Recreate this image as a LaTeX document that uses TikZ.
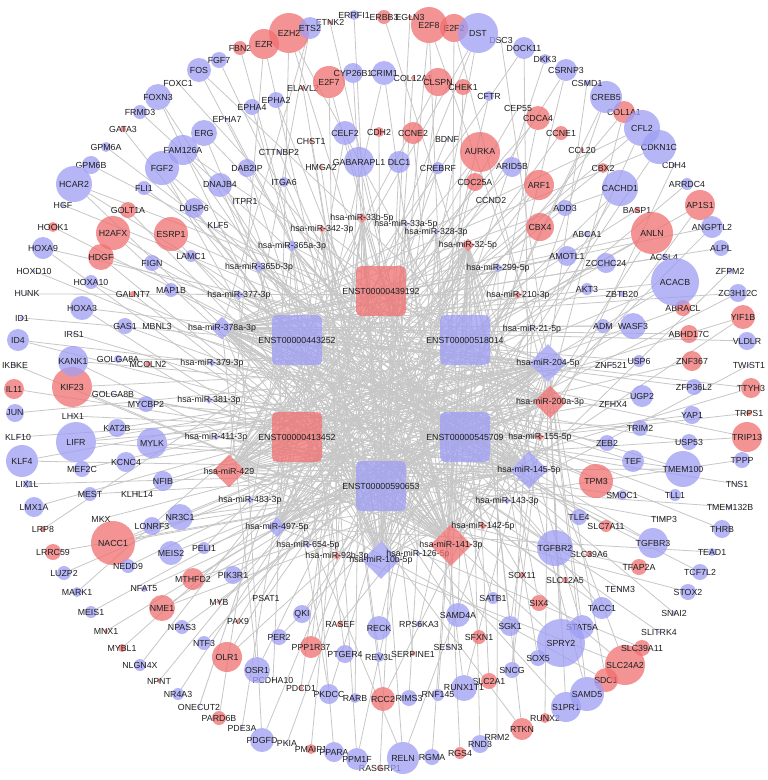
\documentclass[tikz,border=0pt]{standalone}
\usepackage{fontspec}
\setmainfont{Liberation Sans}
\usetikzlibrary{shapes.geometric,backgrounds}
\definecolor{upred}{HTML}{F07070}
\definecolor{downblue}{HTML}{9E9EF5}
\newcommand{\genefont}{\fontsize{8.8}{10}\selectfont}

\begin{document}
\begin{tikzpicture}[x=1pt, y=-1pt,
  gene/.style={circle, inner sep=0pt, fill opacity=0.75},
  mirna/.style={diamond, aspect=1, inner sep=0pt, fill opacity=0.75},
  lnc/.style={rectangle, rounded corners=5pt, minimum size=50pt, inner sep=0pt, fill opacity=0.75},
  link/.style={draw=black!22, line width=0.8pt},
  tag/.style={font=\genefont, text=black!88, inner sep=0pt, fill opacity=1, text opacity=1},
]
\useasboundingbox (0,0) rectangle (768,780);

% up-regulated mRNAs
\foreach \nm/\px/\py/\rad in {
  FBN2/240/48/7, GATA3/123/129/3, HOOK1/53/227/5, IL11/14/389/10, LRP8/43/529/3,
  LRRC59/53/552/8, MNX1/106/631/2, MYBL1/122/648/4, NPNT/159/681/2, PARD6B/219/718/7,
  PMAIP1/311/749/5, RASGRP1/380/768/2, RGS4/460/753/6, RTKN/522/729/11, RUNX2/545/718/5,
  SDC1/606/680/12, SLC24A2/625/665/20, SLC39A11/642/648/8, TRIP13/747/437/15, TRPS1/749/413/3,
  TTYH3/751/388/10, YIF1B/743/317/12, AP1S1/700/205/15, COL1A1/624/112/11, E2F2/454/28/14,
  E2F8/429/25/18, EGLN3/410/17/2, ERBB3/384/17/7, ETNK2/330/22/2, EZH2/289/33/20, EZR/264/44/15,
  ELAVL2/303/88/2, E2F7/329/82/16, COL12A1/413/78/2, CLSPN/438/82/14, CHEK1/463/87/8,
  CDCA4/538/118/12, CCNE1/561/133/7, CCL20/582/150/2, CBX2/603/168/5, BASP1/637/210/3,
  ANLN/652/233/21, ABRACL/683/308/8, ABHD17C/689/334/9, ZNF367/692/361/10, TFAP2A/639/567/8,
  SLC2A1/489/681/8, RCC2/383/699/12, PDCD1/301/688/2, OLR1/227/657/15, NME1/162/608/13,
  NACC1/113/543/22, KIF23/72/387/20, HDGF/101/257/13, H2AFX/113/233/17, GOLT1A/128/210/8,
  CHST1/311/141/2, CDH2/379/132/5, CCNE2/413/133/11, AURKA/480/152/20, ARF1/539/185/15,
  SLC7A11/606/526/6, SLC39A6/589/554/3, SLC12A5/565/580/3, SIX4/539/603/8, SFXN1/479/637/7,
  SERPINE1/413/654/2, PPP1R37/311/647/11, PAX9/238/621/2, MYB/219/602/2, MTHFD2/193/579/11,
  MCOLN2/148/364/3, GALNT7/133/294/3, ESRP1/171/234/17, HMGA2/321/167/2, CDC25A/475/182/9,
  CBX4/540/227/14, TPM3/596/481/17, SOX11/522/575/3, RASEF/340/624/3}
  \node[gene, fill=upred, minimum size=2*\rad, label={[tag]center:\nm}] (\nm) at (\px,\py) {};

% down-regulated mRNAs
\foreach \nm/\px/\py/\rad in {
  FGF7/219/60/8, FOS/199/70/12, FOXC1/178/83/1.5, FOXN3/158/97/13, FRMD3/140/112/7,
  GPM6A/106/147/5, GPM6B/91/165/9, HCAR2/74/184/18, HGF/63/205/2, HOXA9/43/248/11,
  HOXD10/34/271/1.5, HUNK/27/294/1.5, ID1/22/318/2, ID4/18/340/11, IKBKE/15/365/1.5,
  JUN/15/413/9, KLF10/18/437/1.5, KLF4/22/461/16, LIX1L/27/484/4, LMX1A/34/507/10,
  LUZP2/64/573/7, MARK1/77/592/5, MEIS1/91/612/6, NLGN4X/140/665/6, NR4A3/178/694/6,
  ONECUT2/199/707/1.5, PDE3A/242/728/1.5, PDGFD/262/740/12, PKIA/287/743/1.5, PPARA/334/752/10,
  PPM1F/357/759/11, RELN/403/758/16, RGMA/432/757/8, RND3/480/744/9, RRM2/497/737/1.5,
  S1PR1/566/707/15, SAMD5/587/694/17, SLITRK4/659/632/1.5, SNAI2/674/613/2, STOX2/688/592/8,
  TCF7L2/700/572/8, TEAD1/712/552/4, THRB/722/529/9, TMEM132B/730/507/2, TNS1/737/484/1.5,
  TPPP/742/460/8, TWIST1/749/365/1.5, VLDLR/747/341/9, ZC3H12C/738/293/9, ZFPM2/730/271/3,
  ALPL/721/248/8, ANGPTL2/712/227/11, ARRDC4/687/184/6, CDH4/674/165/2, CDKN1C/659/147/17,
  CFL2/642/128/18, CREB5/606/97/16, CSMD1/587/83/3, CSRNP3/566/70/11, DKK3/545/59/5,
  DOCK11/524/48/11, DSC3/501/40/1.5, DST/478/33/20, ERRFI1/354/15/5, ETS2/310/28/11,
  EPHA7/227/119/1.5, EPHA4/252/107/8, EPHA2/276/100/8, CYP26B1/353/73/10, CRIM1/384/73/12,
  CFTR/489/96/5, CEP55/518/108/1.5, CACHD1/620/188/18, ACSL4/664/257/3, ACACB/675/282/24,
  ZFP36L2/694/387/8, YAP1/692/415/9, USP53/689/442/8, TMEM100/683/469/18, TLL1/675/495/6,
  TIMP3/664/519/1.5, TGFBR3/653/543/15, TENM3/620/589/1.5, TACC1/602/608/11, STAT5A/582/627/12,
  SPRY2/561/643/24, SOX5/538/658/8, SNCG/512/670/8, RUNX1T1/464/688/13, RNF145/438/695/6,
  RIMS3/409/698/8, RARB/355/698/5, PKDCC/329/694/10, PCDHA10/273/680/1.5, OSR1/257/670/13,
  NTF3/204/643/7, NPAS3/182/627/7, NFAT5/144/589/3, NEDD9/128/566/7, MKX/101/519/1.5,
  MEST/90/494/7, MEF2C/82/469/8, LIFR/76/442/20, LHX1/73/416/1.5, KANK1/73/361/15,
  IRS1/74/334/1.5, HOXA3/82/308/12, HOXA10/91/282/7, FLI1/144/188/7, FGF2/162/168/17,
  FAM126A/183/150/15, ERG/204/133/13, DNAJB4/220/185/12, DAB2IP/247/168/9, CTTNBP2/279/152/2,
  CELF2/345/133/12, BDNF/447/139/1.5, ARID5B/512/167/10, ADD3/565/208/8, ABCA1/587/234/3,
  ZCCHC24/606/263/10, ZBTB20/622/294/3, WASF3/633/326/13, USP6/639/361/6, UGP2/642/396/11,
  TRIM2/640/428/8, TEF/633/461/11, SMOC1/622/495/5, SGK1/510/626/10, SESN3/448/647/2,
  REV3L/379/657/5, PTGER4/345/654/9, PER2/279/637/8, MEIS2/171/553/12, LONRF3/152/526/9,
  KLHL14/137/494/1.5, KCNC4/126/462/10, KAT2B/117/428/9, GOLGA8B/113/394/1.5, GOLGA8A/118/359/4,
  GAS1/125/326/8, FIGN/152/263/8, DUSP6/194/208/10, ITPR1/245/201/1.5, ITGA6/284/182/5,
  GABARAPL1/359/162/15, DLC1/399/162/11, CREBRF/438/168/6, CCND2/491/200/1.5, AMOTL1/567/256/10,
  AKT3/587/289/6, ADM/603/326/7, ZNF521/611/365/1.5, ZFHX4/613/404/1.5, ZEB2/607/443/8,
  TLE4/579/517/8, TGFBR2/555/548/18, SATB1/493/598/6, SAMD4A/458/615/12, RPS6KA3/419/624/3,
  RECK/379/628/12, QKI/302/614/9, PSAT1/266/598/1.5, PIK3R1/233/575/9, PELI1/204/548/6,
  NR3C1/180/517/13, NFIB/163/481/10, MYLK/152/443/15, MYCBP2/146/404/8, MBNL3/157/326/1.5,
  MAP1B/171/290/7, LAMC1/191/256/6, KLF5/218/226/1.5}
  \node[gene, fill=downblue, minimum size=2*\rad, label={[tag]center:\nm}] (\nm) at (\px,\py) {};

% miRNAs
\foreach \nm/\px/\py/\sz/\col/\txt in {
  m10b/381/560/38/downblue/hsa-miR-10b-5p, m126/418/554/5/downblue/hsa-miR-126-5p,
  m141/451/545/42/upred/hsa-miR-141-3p, m142/483/526/8/upred/hsa-miR-142-5p,
  m143/507/501/7/downblue/hsa-miR-143-3p, m145/529/470/38/downblue/hsa-miR-145-5p,
  m155/540/437/8/upred/hsa-miR-155-5p, m200a/550/402/33/upred/hsa-miR-200a-3p,
  m204/548/363/38/downblue/hsa-miR-204-5p, m21/532/329/4/downblue/hsa-miR-21-5p,
  m210/518/295/8/upred/hsa-miR-210-3p, m299/498/268/10/downblue/hsa-miR-299-5p,
  m32/468/245/13/upred/hsa-miR-32-5p, m328/436/232/6/downblue/hsa-miR-328-3p,
  m33a/406/224/6/downblue/hsa-miR-33a-5p, m33b/362/218/10/upred/hsa-miR-33b-5p,
  m342/322/229/8/upred/hsa-miR-342-3p, m365a/292/246/12/downblue/hsa-miR-365a-3p,
  m365b/259/267/12/downblue/hsa-miR-365b-3p, m377/239/295/10/downblue/hsa-miR-377-3p,
  m378a/222/328/23/downblue/hsa-miR-378a-3p, m379/212/363/8/downblue/hsa-miR-379-3p,
  m381/209/400/8/downblue/hsa-miR-381-3p, m411/216/437/7/downblue/hsa-miR-411-3p,
  m429/229/471/33/upred/hsa-miR-429, m483/250/500/8/downblue/hsa-miR-483-3p,
  m497/277/527/20/downblue/hsa-miR-497-5p, m654/308/545/7/downblue/hsa-miR-654-5p,
  m92b/337/556/8/upred/hsa-miR-92b-3p}
  \node[mirna, fill=\col, minimum size=\sz, label={[tag]center:\txt}] (\nm) at (\px,\py) {};

% lncRNAs
\foreach \nm/\px/\py/\col/\txt in {
  t439/381/291/upred/ENST00000439192, t443/297/340/downblue/ENST00000443252,
  t518/465/340/downblue/ENST00000518014, t413/297/437/upred/ENST00000413452,
  t545/465/437/downblue/ENST00000545709, t590/381/486/downblue/ENST00000590653}
  \node[lnc, fill=\col, label={[tag]center:\txt}] (\nm) at (\px,\py) {};

\begin{pgfonlayer}{background}
  \fill[white] (0,0) rectangle (768,780);
  % lncRNA -- miRNA
  \foreach \m/\ls in {
    m10b/{t439,t443,t518,t413,t545,t590}, m126/{t439,t590}, m141/{t439,t443,t518,t413,t545,t590},
    m142/{t443,t545}, m143/{t413,t590}, m145/{t439,t443,t518,t413,t590}, m155/{t443,t518},
    m200a/{t439,t443,t413,t545}, m204/{t439,t443,t413,t545,t590}, m21/{t413,t590},
    m210/{t443,t545}, m299/{t413,t590}, m32/{t443,t518,t545}, m328/{t413,t545},
    m33a/{t413,t590}, m33b/{t439,t590}, m342/{t518,t590}, m365a/{t518,t545},
    m365b/{t518,t413}, m377/{t518,t545}, m378a/{t439,t518,t545,t590}, m379/{t518,t590},
    m381/{t439,t545}, m411/{t443,t518}, m429/{t439,t443,t518,t545,t590}, m483/{t439,t518},
    m497/{t439,t518,t413,t545}, m654/{t439,t518}, m92b/{t443,t518}}
    \foreach \l in \ls \draw[link] (\m) -- (\l);
  % miRNA -- mRNA
  \foreach \g in {EZR,ERRFI1,EGLN3,E2F8,DST,DKK3,CREB5,CDKN1C,ANGPTL2,YIF1B,TWIST1,FOXN3,FBN2,
    EPHA4,ELAVL2,CYP26B1,COL12A1,CLSPN,CFTR,CCL20,CACHD1,FGF2,ERG,DNAJB4,DAB2IP,CHST1,CDH2,
    AURKA,ITPR1,HMGA2,DLC1}
    \draw[link] (m10b) -- (\g);
  \foreach \g in {EZH2,ETNK2,E2F8,E2F2,CSRNP3,CREB5,CFL2,AP1S1,ZFPM2,IKBKE,HOXA9,HCAR2,GATA3,
    FOXN3,FOS,FGF7,EPHA7,EPHA2,E2F7,CRIM1,CHEK1,CDCA4,ANLN,KIF23,KANK1,HOXA3,HDGF,H2AFX,GOLT1A,
    FGF2,FAM126A,DNAJB4,CTTNBP2,CELF2,CCNE2,GALNT7,ESRP1,DUSP6,ITGA6,GABARAPL1,MCOLN2}
    \draw[link] (m141) -- (\g);
  \foreach \g in {EZH2,ERBB3,DOCK11,COL1A1,CDH4,LRRC59,LIX1L,KLF4,IL11,ID4,HOXD10,HOOK1,HCAR2,
    GPM6A,FRMD3,FOXC1,NME1,NACC1,MEST,LIFR,KIF23,IRS1,HOXA10,H2AFX,FLI1,FGF2,ERG,MTHFD2,LONRF3,
    GOLGA8B,GAS1,FIGN,NR3C1,MYLK,MAP1B}
    \draw[link] (m145) -- (\g);
  \foreach \g in {E2F2,S1PR1,KLF10,ID4,HGF,GPM6B,FOS,SPRY2,NFAT5,NACC1,MKX,LIFR,KANK1,HDGF,
    FAM126A,MEIS2,KCNC4,ESRP1,PELI1}
    \draw[link] (m200a) -- (\g);
  \foreach \g in {E2F8,DSC3,CSMD1,SDC1,SAMD5,RUNX2,RELN,MNX1,MEIS1,LUZP2,LMX1A,KLF4,JUN,ID1,
    HOXA9,HCAR2,STAT5A,SPRY2,SNCG,RUNX1T1,RCC2,OLR1,NPAS3,NME1,NEDD9,NACC1,MEF2C,LIFR,KIF23,
    HOXA3,SGK1,PER2,MYB,MTHFD2,KLHL14,KAT2B,GOLGA8A,RASEF,PIK3R1,NR3C1,NFIB,MYLK}
    \draw[link] (m204) -- (\g);
  \foreach \g in {ETS2,CFL2,CDKN1C,ANGPTL2,ALPL,ZC3H12C,VLDLR,TTYH3,TRIP13,THRB,TCF7L2,SLITRK4,
    SLC24A2,S1PR1,RTKN,RELN,CACHD1,ANLN,ACSL4,ACACB,ABHD17C,ZFP36L2,TMEM100,TLL1,TGFBR3,TENM3,
    TACC1,SPRY2,OSR1,ABCA1,ZBTB20,WASF3,USP6,TEF,SLC12A5,AMOTL1,ADM,ZFHX4,TPM3,TGFBR2}
    \draw[link] (m378a) -- (\g);
  \foreach \g in {EZR,ETS2,DST,DOCK11,CFL2,AP1S1,YIF1B,TRPS1,TRIP13,TMEM132B,STOX2,SLC39A11,
    SDC1,CLSPN,CDCA4,CBX2,BASP1,ANLN,ACACB,ABRACL,ZNF367,YAP1,TMEM100,TFAP2A,AURKA,ARID5B,ARF1,
    ADD3,ZCCHC24,UGP2,CCND2,CBX4,AKT3}
    \draw[link] (m429) -- (\g);
  \foreach \g in {EZH2,DST,CSRNP3,COL1A1,ARRDC4,ZC3H12C,TTYH3,TPPP,TEAD1,SLC24A2,CRIM1,CEP55,
    CCNE1,CACHD1,ACACB,CELF2,BDNF,AURKA,ARF1,WASF3,CDC25A}
    \draw[link] (m497) -- (\g);
  \foreach \g in {SLC24A2,SAMD5,RTKN,RND3,RGMA,PPM1F,PKIA,PDGFD,NR4A3,NLGN4X,MARK1,LRP8,STAT5A,
    SOX5,SLC2A1,RNF145,PKDCC,OSR1,OLR1,SIX4,SGK1,SESN3,PPP1R37,PAX9,SAMD4A,RECK}
    \draw[link] (m32) -- (\g);
  \foreach \m/\ls in {
    m92b/{E2F7,GABARAPL1}, m654/{CREBRF}, m299/{RRM2,NPNT,RPS6KA3,PSAT1}, m328/{RGS4,RIMS3},
    m33a/{RASGRP1,RUNX1T1,SFXN1}, m33b/{RELN,PMAIP1,ONECUT2,RARB,PDCD1,SERPINE1,PPP1R37,SATB1},
    m342/{PPM1F,PDE3A,RCC2,REV3L,SOX11}, m365a/{PPARA,PARD6B,TACC1,PCDHA10,PTGER4,TGFBR2},
    m365b/{SNAI2,PKDCC,SLC39A6,TLE4}, m377/{PDGFD,TGFBR3,UGP2,SLC7A11,TPM3},
    m210/{MYBL1,HUNK,NTF3,QKI}, m381/{TNS1,TMEM100,TRIM2,ZNF521}, m379/{USP53,ZEB2},
    m411/{TIMP3,SMOC1}, m155/{LHX1,MYCBP2,MBNL3}, m142/{LAMC1}, m143/{KLF5},
    m126/{SAMD4A}, m21/{SNCG}, m483/{PELI1}}
    \foreach \g in \ls \draw[link] (\m) -- (\g);
\end{pgfonlayer}
\end{tikzpicture}
\end{document}
